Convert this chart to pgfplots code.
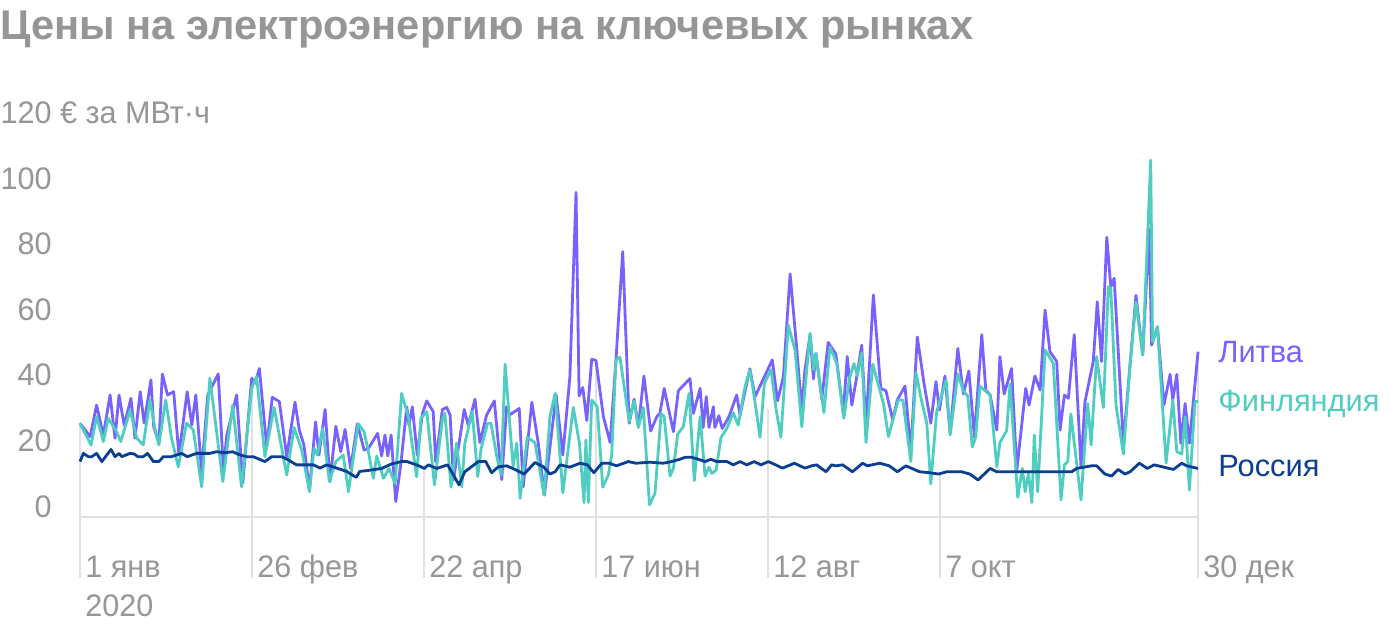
\documentclass[border=0pt]{standalone}
\usepackage{pgfplots}
\pgfplotsset{compat=1.18}
\usepackage{fontspec}
\setmainfont{Liberation Sans}
\newfontfamily\condfont[FakeStretch=0.98]{Liberation Sans}
\definecolor{lit}{RGB}{120,98,255}
\definecolor{fin}{RGB}{78,205,192}
\definecolor{rus}{RGB}{10,62,145}
\definecolor{txtgray}{RGB}{150,150,150}
\definecolor{gridgray}{RGB}{225,225,225}

\pgfplotstableread{
d v
0 28.6
3.3 24.5
5.4 34.1
7.6 25
9.8 37.2
11.4 24
12.7 37.2
14.4 28
16.6 36.2
17.9 24
19.6 38.2
20.9 28.6
23.1 41.8
24 27.5
25.7 22.5
26.8 43.6
28.5 37.2
30.5 38.2
32.2 18.9
34.9 38.2
36.4 28
37.7 37.2
39.6 13.8
41.6 37.2
45 43.6
46.7 14.3
47.8 25
51 37.2
53 10.3
55.9 42.3
57 40.8
58.4 45.3
60.8 21.4
62.6 36.5
64.9 35.2
67.3 18.4
70 35
71.4 26.5
72.9 22
74.7 8.2
76.7 29
77.8 18.9
79.8 32.8
81.4 10.8
83.3 27.7
84.9 19.9
86.3 26.7
88.1 14.8
90.3 28.4
92.5 20.4
93.9 20.9
96.9 25.5
98.2 18.6
99.3 25
100.2 18.6
101.3 25
102.8 4.7
104.5 16.4
106.4 33.6
107.1 28
108.2 33.6
109.8 18.9
111.5 31.6
112.9 35.4
115 32.1
115.8 16.9
118 32.8
119.4 33.4
120.5 31.1
121.6 11.3
125.1 32.8
126.4 28
128.6 35.9
130.2 22.7
132.4 31.1
134.9 35.4
137.3 11.4
138.9 33.6
140 31.2
143 33.1
144.3 9.2
147.1 35
149.2 22.5
151.2 6.7
155 37.2
157.2 18.9
159.5 42.8
161.5 99
162.5 36.9
163.7 39.5
165 29.4
166.6 48.1
168 47.7
170.4 30.6
172.6 22.7
174.5 47.9
176.7 80.9
178.8 28.6
180.4 35.9
181.8 27.5
183.6 43
185.8 26.2
187.8 30.6
188.8 31.6
190.2 39.2
193.2 26
194.8 38.5
198.6 42.2
199.7 31.6
201.9 39.2
202.9 27.3
203.9 36.7
204.8 27.3
206.2 33.6
206.7 27.3
208 30.9
209.1 27
211.3 30.6
213.8 37.2
214.9 31.1
218.1 45.2
219.8 36.7
225.4 47.9
227.1 35.4
229 42.8
231.2 74.1
233.3 51.9
235 32.6
236 44.6
237.7 55.6
238.8 42.1
239.6 49.9
241.5 35.9
243.6 53.2
246.1 49.7
248.5 31.6
249.8 48.9
251.3 34.1
252.9 42.8
254.5 52.4
255.9 27.5
258.3 67.7
260.7 39.2
262.4 38.5
264.6 29.6
266.1 35.7
268.6 39.9
270.5 19.9
272.6 54.9
274.8 40.7
277 28.6
278.7 41.3
279.8 32.6
281.6 43
283.3 25.5
285.8 51.4
287.6 37.5
289.4 44.5
291.2 24.3
293.6 55.6
294.9 38.7
296.3 37.2
298.5 26.5
299.5 48.9
300.9 37.5
303.3 45.3
305 14.3
307.9 39.2
309 34.1
310.9 43
312.6 38.7
314.2 63.1
315.8 50.4
318 47.4
319.1 26.5
320.5 37.2
321.8 36.2
323.7 55.6
325.9 15.3
327.2 35.2
329.9 47.4
331.2 65.6
332.6 47.4
334.3 85.3
335.6 70.2
336.7 72.8
339.7 22.5
343.8 67.6
346 49.4
348.1 87.7
348.9 52.4
350.8 58
352.9 34.1
354.9 43.5
355.8 35.7
357.1 43.5
358.4 22.5
359.8 34.6
361.2 22.5
364 50.4
}\lit

\pgfplotstableread{
d v
0 28.6
3.6 21.9
5.4 30.6
7.6 23
9.2 30.1
11.9 26
13.3 23
16.3 32.6
18.5 24
20.6 22
22.8 35.7
24.4 27
25.7 22
27.9 35.7
29.8 24
32 15.3
34.7 28.6
36.9 26.5
39.6 9.2
42.3 42.3
46.5 10.8
49.7 34.1
52.6 9.2
55.9 39.2
57.5 42.8
60.2 18.4
63.2 33.4
67.3 12.8
69.7 27.3
72.2 20.4
74.7 7.7
76.2 20.9
77.3 18.9
79 27
81.2 10.8
83.3 16.9
85.7 18.9
87.4 7.7
90.6 28.4
92.5 26
93.9 19.9
95.5 11.8
96.6 18.6
98.8 11.8
100.6 14.8
102.6 10.2
104.7 37.7
106.9 30.6
109.6 12.3
111 30.1
112.9 32.1
115.4 9.8
118 29.8
118.8 31.6
120.8 9.1
122.6 22.5
124.3 9.2
125.3 22.5
127.7 32.1
129.5 12.3
130.6 20.9
132.7 28.6
133.8 28.6
135.7 18.4
137.1 12.8
138.4 46.6
141 15.5
142.2 22.5
143.3 5.7
145.6 24.3
148.1 22.7
151.1 6.7
153 30.6
154.7 37.7
157.2 7.4
160.6 33.4
162.6 22.5
164.1 4.4
164.7 23.5
165.5 4.4
166.6 35.7
168.4 33.6
170.2 9.1
172 12.8
173.1 18.9
174.5 47.9
175.8 48.7
178.8 29.1
180.4 35.4
181.8 27.3
183.4 33.4
185.4 3.7
187.2 7.2
189.2 31.6
190.2 30.6
192.1 12.5
193.2 14.8
194.6 25.3
196.4 27.5
198.3 37.7
200 11.1
201.9 30.6
203.5 12.5
204.8 15.2
205.7 13.3
207.1 14.3
208.7 24.3
210.6 27
212.7 31.8
214.3 28
216.5 39.7
218.1 44.9
219.5 36.7
221.4 24.3
222.8 40.7
225 44.9
226.5 33.6
228.2 24.3
230.6 58.5
232.8 50.9
235 27.5
236 38.7
237.7 56
238.9 44.9
239.6 49.9
242.2 31.8
244.2 51.9
246.4 46.8
248.7 30.1
250.5 42.3
252 46.8
253.1 43
254.5 50.1
255.9 22.7
258.1 46.6
261.6 34.6
263.2 24.5
266.4 35.7
267.9 35.7
270.5 16.9
272.2 44
273.7 36.7
275.7 28.6
277 10.1
278.9 32.1
282 41.8
283.3 25
285.8 43.6
287.6 38.5
289 36.9
290.5 21.4
291.6 24.3
293 39.9
296.3 37.2
298.5 15.3
299.5 22.7
301.7 26.3
302.8 40.5
305.3 6
306.8 14.8
307.7 7.7
308.8 13.3
309.9 4.4
310.7 25
311.8 7.7
314.2 50.9
316.9 46.8
319.4 5.2
320.5 15.9
321.6 16.9
322.6 31.4
325.9 5.2
328.1 34.6
329.2 22
331 48.9
333.2 33.4
334.8 70.2
335.6 69.7
337.3 34.1
339.7 19.2
341.9 46.8
343.8 65.6
346 49.4
348.6 108.8
349.2 53.4
350.8 58
353.6 16.4
355.8 35.7
357.1 19.9
358.7 19.2
359.8 30.6
361.2 8.2
363 35.2
364 35.2
}\fin

\pgfplotstableread{
d v
0 16.9
1.1 19.4
2.7 18.4
3.8 18.4
5.4 19.4
7.1 16.9
10.1 20.6
11.4 18.4
12.7 19.4
13.6 18.4
16.3 19.4
17.7 19.2
18.8 18.4
20.6 18.4
22 19.4
23.9 16.9
25.7 16.9
27.1 18.4
29.8 18.4
33.1 19.4
34.9 18.4
38 19.4
42.3 19.4
44.4 19.9
47.2 19.6
49.7 19.9
52.1 18.9
54.3 18.4
56.4 18.4
60.2 16.9
62.4 18.4
65.7 18.4
67.8 17.4
70.5 15.9
76 15.9
78.1 14.9
80.3 15.9
83.6 14.9
86.8 13.9
89.9 12.1
91.1 13.9
93.9 14.2
98.2 14.8
101.5 16.2
104.7 16.9
106.4 16.9
109.6 15.9
112.1 14.8
113.4 15.9
116.1 14.8
119.7 15.9
123.4 9.8
125.3 13.8
129.7 16.9
132.1 16.9
134 13.5
136.2 15.3
138.9 15.6
141.6 14.5
144.6 13.1
148.1 16.6
150.9 15.3
153 13.1
154.7 13.8
156.3 15.9
159.5 15.2
162.8 16.4
165.2 15.9
167.3 13.5
169.9 16.4
172.3 16.4
174.7 15.6
178.5 16.9
181 16.4
185.6 16.7
189.9 16.4
192.6 16.9
195.3 17.6
197 18.2
199.2 18.2
201.3 17.6
203.5 16.9
205.4 17.6
207.3 16.9
210.6 16.9
212.7 15.9
214.9 16.9
217.1 15.9
219.5 16.9
221.7 15.9
224.1 16.9
226.5 15.9
228.7 14.9
232.6 16.4
236 14.9
238.2 15.6
239.8 15.9
242.9 13.8
244.7 15.9
246.1 15.6
248.3 15.9
251.5 13.8
254.8 16.4
256.3 15.6
260.4 16.4
263.5 15.6
266.1 13.8
268.9 15.6
273.3 13.8
276.6 13.5
279.5 13.1
282.2 13.8
287 13.8
289.7 13.1
292.4 11.3
296.3 14.8
298.5 13.8
322.9 13.8
324.5 14.8
329.3 15.6
331 15.6
333.7 13.1
335.9 12.5
338 14.5
340.2 13.1
341.9 13.8
344.9 16.4
347.5 14.8
349.7 15.9
356 14.5
358.7 16.4
360.3 15.6
364 14.8
}\rus

\begin{document}
\begin{tikzpicture}
\path[use as bounding box] (0,0) rectangle (700pt,314pt);
\node[anchor=base west, inner sep=0pt, text=txtgray, font=\bfseries\fontsize{20.8}{24}\selectfont] at (0pt,294pt) {Цены на электроэнергию на ключевых рынках};
\begin{axis}[
  at={(40pt,55.5pt)}, anchor=south west,
  scale only axis, width=559pt, height=196.8pt,
  xmin=0, xmax=364, ymin=0, ymax=120,
  clip=false,
  axis x line*=bottom, axis y line*=left,
  x axis line style={draw=gridgray, line width=1pt, -},
  y axis line style={draw=none},
  xtick={0,56,112,168,224,280,364},
  xticklabels={1 янв, 26 фев, 22 апр, 17 июн, 12 авг, 7 окт, 30 дек},
  ytick={0,20,40,60,80,100,120},
  yticklabels={0,20,40,60,80,100,{120\rlap{ € за МВт·ч}}},
  major tick length=0pt,
  xtick style={draw=none}, ytick style={draw=none},
  /pgf/number format/assume math mode=true,
  ticklabel style={font=\condfont\fontsize{15.6}{18}\selectfont, text=txtgray, inner sep=0pt},
  xticklabel style={anchor=base west, xshift=2.5pt, yshift=-30pt},
  yticklabel style={anchor=base east, xshift=-14pt},
  line join=round,
]
\draw[gridgray, line width=1pt] (axis cs:0,28.6) -- (axis cs:0,0) -- ++(0,-30.5pt);
\draw[gridgray, line width=1pt] (axis cs:56,42) -- (axis cs:56,0) -- ++(0,-30.5pt);
\draw[gridgray, line width=1pt] (axis cs:112,16) -- (axis cs:112,0) -- ++(0,-30.5pt);
\draw[gridgray, line width=1pt] (axis cs:168,47) -- (axis cs:168,0) -- ++(0,-30.5pt);
\draw[gridgray, line width=1pt] (axis cs:224,33) -- (axis cs:224,0) -- ++(0,-30.5pt);
\draw[gridgray, line width=1pt] (axis cs:280,13.5) -- (axis cs:280,0) -- ++(0,-30.5pt);
\draw[gridgray, line width=1pt] (axis cs:364,50) -- (axis cs:364,0) -- ++(0,-30.5pt);
\addplot[lit, line width=1.4pt, no markers] table[x=d,y=v] {\lit};
\addplot[fin, line width=1.4pt, no markers] table[x=d,y=v] {\fin};
\addplot[rus, line width=1.4pt, no markers] table[x=d,y=v] {\rus};
\node[anchor=base west, inner sep=0pt, text=txtgray, font=\condfont\fontsize{15.6}{18}\selectfont] at (axis cs:0,0) [xshift=2.5pt, yshift=-49.5pt] {2020};
\end{axis}
\node[anchor=base west, inner sep=0pt, text=lit, font=\fontsize{15.4}{18}\selectfont] at (609pt,133pt) {Литва};
\node[anchor=base west, inner sep=0pt, text=fin, font=\fontsize{15.4}{18}\selectfont] at (609pt,108.5pt) {Финляндия};
\node[anchor=base west, inner sep=0pt, text=rus, font=\fontsize{15.4}{18}\selectfont] at (609pt,76pt) {Россия};
\end{tikzpicture}
\end{document}
